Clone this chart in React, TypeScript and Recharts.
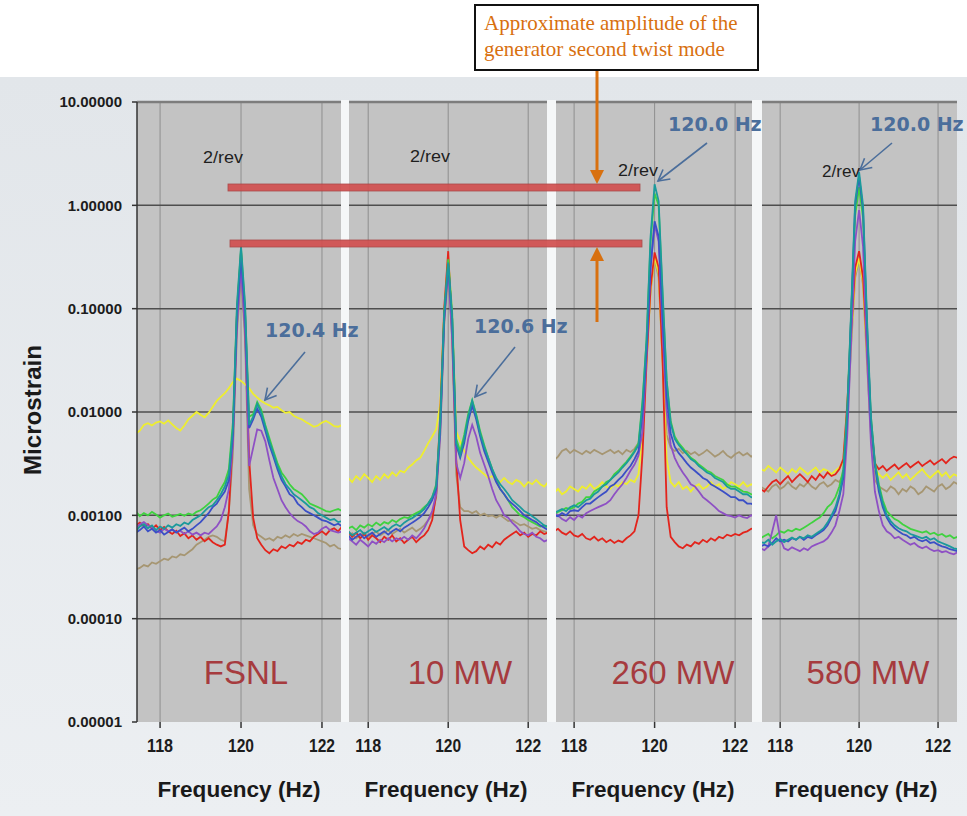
import { LineChart, Line, XAxis, YAxis, CartesianGrid, ReferenceLine } from "recharts";

// Frequency axis (Hz), shared by all four panels
const FREQ = [
  117.4, 117.5, 117.6, 117.7, 117.8, 117.9,
  118.0, 118.1, 118.2, 118.3, 118.4, 118.5, 118.6, 118.7, 118.8, 118.9,
  119.0, 119.1, 119.2, 119.3, 119.4, 119.5, 119.6, 119.7, 119.8, 119.9,
  120.0, 120.1, 120.2, 120.3, 120.4, 120.5, 120.6, 120.7, 120.8, 120.9,
  121.0, 121.1, 121.2, 121.3, 121.4, 121.5, 121.6, 121.7, 121.8, 121.9,
  122.0, 122.1, 122.2, 122.3, 122.4, 122.5,
];

// ---- FSNL ----
const FSNL_YELLOW = [
  0.0062, 0.0066, 0.0075, 0.0078, 0.0074, 0.0079,
  0.0081, 0.0077, 0.0083, 0.0076, 0.007, 0.0066, 0.0074, 0.0085, 0.0092, 0.01,
  0.0094, 0.0089, 0.0098, 0.0112, 0.0128, 0.014, 0.0152, 0.017, 0.0195, 0.021,
  0.02, 0.0185, 0.017, 0.015, 0.0138, 0.0128, 0.0121, 0.0116, 0.011, 0.0112,
  0.0104, 0.0098, 0.01, 0.0092, 0.0088, 0.0085, 0.008, 0.0076, 0.0072, 0.0074,
  0.0079, 0.0082, 0.0078, 0.0073, 0.0072, 0.0075,
];
const FSNL_RED = [
  0.0008, 0.00085, 0.00078, 0.00082, 0.00074, 0.0008,
  0.00072, 0.00077, 0.0007, 0.00066, 0.00071, 0.00063, 0.00067, 0.0006, 0.00064, 0.00058,
  0.00062, 0.00056, 0.0006, 0.00055, 0.00052, 0.0005, 0.00052, 0.0011, 0.006, 0.09,
  0.36, 0.07, 0.0035, 0.00095, 0.0006, 0.00052, 0.00046, 0.00043, 0.00047, 0.00045,
  0.0005, 0.00048, 0.00052, 0.0005, 0.00055, 0.00053, 0.00058, 0.00056, 0.00062, 0.00066,
  0.0007, 0.00065, 0.00072, 0.00075, 0.0007, 0.00078,
];
const FSNL_GREEN = [
  0.0011, 0.00098, 0.00105, 0.001, 0.00108, 0.00102,
  0.00095, 0.001, 0.00104, 0.00097, 0.001, 0.00103, 0.00099, 0.00104, 0.00101, 0.00108,
  0.00112, 0.0012, 0.0013, 0.00142, 0.0015, 0.0018, 0.0021, 0.0028, 0.008, 0.1,
  0.38, 0.1, 0.009, 0.0095, 0.0125, 0.0105, 0.0075, 0.0056, 0.0042, 0.0032,
  0.0026, 0.0023, 0.002, 0.0018, 0.0017, 0.0016, 0.00145, 0.0013, 0.00125, 0.0012,
  0.00115, 0.0011, 0.00108, 0.00112, 0.00115, 0.0011,
];
const FSNL_TEAL = [
  0.0007, 0.00078, 0.00082, 0.00075, 0.0008, 0.00072,
  0.00078, 0.00074, 0.0008, 0.00076, 0.00082, 0.00079, 0.00085, 0.00082, 0.0009, 0.00095,
  0.001, 0.0011, 0.0012, 0.00125, 0.0014, 0.0016, 0.0019, 0.0025, 0.007, 0.11,
  0.4, 0.11, 0.0075, 0.009, 0.012, 0.0098, 0.0072, 0.0052, 0.004, 0.003,
  0.0024, 0.002, 0.0018, 0.0016, 0.0015, 0.0014, 0.0013, 0.0012, 0.00115, 0.00105,
  0.001, 0.00095, 0.0009, 0.00092, 0.00086, 0.00088,
];
const FSNL_BLUE = [
  0.00068, 0.00072, 0.00078, 0.0007, 0.00074, 0.00068,
  0.00072, 0.00065, 0.00069, 0.00073, 0.00068, 0.00072, 0.00076, 0.0007, 0.00074, 0.0008,
  0.00086, 0.00095, 0.00105, 0.0012, 0.0013, 0.0015, 0.0017, 0.0022, 0.0062, 0.09,
  0.32, 0.09, 0.007, 0.0085, 0.0108, 0.009, 0.0066, 0.0048, 0.0037, 0.0028,
  0.0022, 0.0019, 0.0016, 0.0015, 0.0013, 0.0012, 0.0011, 0.00105, 0.001, 0.00095,
  0.0009, 0.00088, 0.00084, 0.0008, 0.00083, 0.00078,
];
const FSNL_PURPLE = [
  0.00075, 0.00082, 0.00086, 0.0008, 0.00077, 0.00071,
  0.00068, 0.00074, 0.0007, 0.00073, 0.00069, 0.00071, 0.00066, 0.0007, 0.00065, 0.00068,
  0.00064, 0.00068, 0.00066, 0.00072, 0.00078, 0.0009, 0.0012, 0.0018, 0.005, 0.07,
  0.24, 0.06, 0.003, 0.0045, 0.0068, 0.0066, 0.0052, 0.0034, 0.0023, 0.0018,
  0.0014, 0.0012, 0.00105, 0.00095, 0.00088, 0.00084, 0.00078, 0.0007, 0.00066, 0.00068,
  0.00074, 0.00078, 0.00072, 0.0007, 0.00068, 0.0007,
];
const FSNL_TAN = [
  0.0003, 0.00031, 0.00033, 0.00032, 0.00035, 0.00034,
  0.00036, 0.00038, 0.00037, 0.0004, 0.00039, 0.00042, 0.00041, 0.00044, 0.00047, 0.00052,
  0.00055, 0.00058, 0.00062, 0.00064, 0.00062, 0.00058, 0.00056, 0.0011, 0.004, 0.06,
  0.2, 0.05, 0.0018, 0.0008, 0.00066, 0.00062, 0.00058, 0.0006, 0.00057, 0.00062,
  0.0006, 0.00064, 0.00061, 0.00066, 0.00063, 0.00066, 0.00064, 0.00062, 0.0006, 0.00058,
  0.00056, 0.00054, 0.0005, 0.00052, 0.00048, 0.00047,
];

// ---- 10 MW ----
const MW10_YELLOW = [
  0.0022, 0.0023, 0.0021, 0.0024, 0.0022, 0.0025,
  0.0023, 0.0021, 0.0024, 0.0022, 0.0025, 0.0023, 0.0026, 0.0024, 0.0027, 0.0026,
  0.0029, 0.0031, 0.0034, 0.0036, 0.0042, 0.005, 0.0058, 0.0068, 0.012, 0.09,
  0.32, 0.08, 0.0065, 0.0052, 0.0042, 0.0036, 0.0032, 0.0029, 0.0027, 0.0025,
  0.0023, 0.0024, 0.0022, 0.0021, 0.0023, 0.0021, 0.002, 0.0022, 0.0021, 0.0019,
  0.0021, 0.002, 0.0022, 0.002, 0.0019, 0.0021,
];
const MW10_RED = [
  0.00065, 0.0007, 0.00062, 0.00068, 0.0006, 0.00066,
  0.00058, 0.00064, 0.0006, 0.00055, 0.00062, 0.00058, 0.00064, 0.00056, 0.0006, 0.00054,
  0.00058, 0.00062, 0.00055, 0.0006, 0.00064, 0.00072, 0.0009, 0.0016, 0.0095, 0.1,
  0.36, 0.06, 0.0035, 0.0009, 0.0005, 0.00046, 0.00043, 0.00045, 0.0005, 0.00047,
  0.00052, 0.00049, 0.00055, 0.00052, 0.00058, 0.00062, 0.00066, 0.0007, 0.00064, 0.00068,
  0.00062, 0.00066, 0.00064, 0.0007, 0.00066, 0.00068,
];
const MW10_GREEN = [
  0.0007, 0.00075, 0.00078, 0.00072, 0.0008, 0.00076,
  0.00082, 0.00078, 0.00085, 0.0008, 0.00086, 0.00083, 0.0009, 0.00086, 0.00092, 0.00096,
  0.00094, 0.001, 0.00105, 0.0011, 0.0012, 0.0013, 0.0015, 0.002, 0.008, 0.09,
  0.3, 0.09, 0.0055, 0.0042, 0.006, 0.0095, 0.013, 0.0095, 0.0065, 0.0048,
  0.0036, 0.0028, 0.0022, 0.0018, 0.0016, 0.0014, 0.0012, 0.0011, 0.001, 0.00096,
  0.0009, 0.00086, 0.00082, 0.00078, 0.0008, 0.00076,
];
const MW10_TEAL = [
  0.00066, 0.0007, 0.00064, 0.00068, 0.00072, 0.00066,
  0.0007, 0.00074, 0.00069, 0.00073, 0.00077, 0.00072, 0.00078, 0.00082, 0.00078, 0.00085,
  0.0009, 0.00094, 0.001, 0.00106, 0.00115, 0.0013, 0.0015, 0.0019, 0.0075, 0.09,
  0.28, 0.08, 0.005, 0.0038, 0.0055, 0.009, 0.0128, 0.0092, 0.0062, 0.0046,
  0.0036, 0.0028, 0.0023, 0.002, 0.0018, 0.0016, 0.0014, 0.0013, 0.0012, 0.0011,
  0.00105, 0.00098, 0.00092, 0.00086, 0.0008, 0.00078,
];
const MW10_BLUE = [
  0.0006, 0.00064, 0.00058, 0.00062, 0.00066, 0.0006,
  0.00064, 0.00068, 0.00062, 0.00066, 0.0007, 0.00065, 0.0007, 0.00074, 0.0007, 0.00076,
  0.0008, 0.00085, 0.0009, 0.00096, 0.00105, 0.0012, 0.0014, 0.0018, 0.007, 0.08,
  0.27, 0.08, 0.0048, 0.0036, 0.005, 0.0082, 0.0115, 0.0085, 0.0058, 0.0042,
  0.0033, 0.0026, 0.0021, 0.0018, 0.0016, 0.0014, 0.0013, 0.0012, 0.0011, 0.001,
  0.00095, 0.0009, 0.00086, 0.0008, 0.00076, 0.00072,
];
const MW10_PURPLE = [
  0.00055, 0.0006, 0.00056, 0.00052, 0.00058, 0.00054,
  0.0005, 0.00056, 0.00053, 0.00058, 0.00055, 0.0006, 0.00056, 0.0006, 0.00058, 0.00062,
  0.00058, 0.00064, 0.0006, 0.00066, 0.00075, 0.0009, 0.0011, 0.0016, 0.006, 0.075,
  0.25, 0.05, 0.0032, 0.0023, 0.0032, 0.0055, 0.0075, 0.0058, 0.004, 0.0031,
  0.0024, 0.0018, 0.0014, 0.0012, 0.001, 0.00095, 0.00085, 0.00078, 0.0007, 0.00066,
  0.00064, 0.00068, 0.00062, 0.0006, 0.00056, 0.00058,
];
const MW10_TAN = [
  0.0006, 0.00063, 0.00067, 0.0006, 0.00064, 0.00068,
  0.00062, 0.00066, 0.0007, 0.00064, 0.00068, 0.00072, 0.00066, 0.0007, 0.00074, 0.00068,
  0.00072, 0.00076, 0.0007, 0.00074, 0.0008, 0.0009, 0.001, 0.0015, 0.006, 0.07,
  0.22, 0.05, 0.0025, 0.0012, 0.0011, 0.0011, 0.00105, 0.0011, 0.001, 0.00104,
  0.00098, 0.001, 0.00095, 0.001, 0.00094, 0.00088, 0.0009, 0.00085, 0.0008, 0.00082,
  0.00078, 0.00074, 0.00076, 0.00072, 0.0007, 0.00068,
];

// ---- 260 MW ----
const MW260_YELLOW = [
  0.0017, 0.00165, 0.0018, 0.0016, 0.0017, 0.0019,
  0.0018, 0.0017, 0.0019, 0.0018, 0.002, 0.0018, 0.0019, 0.0021, 0.0019, 0.0018,
  0.002, 0.0019, 0.0021, 0.002, 0.0022, 0.0021, 0.0025, 0.006, 0.03, 0.15,
  0.32, 0.22, 0.03, 0.0035, 0.0021, 0.0019, 0.0021, 0.0018, 0.0019, 0.0017,
  0.0019, 0.002, 0.0018, 0.0019, 0.0021, 0.0019, 0.002, 0.0018, 0.0019, 0.0021,
  0.002, 0.0019, 0.0021, 0.0019, 0.002, 0.0019,
];
const MW260_RED = [
  0.00072, 0.0007, 0.00074, 0.00068, 0.00065, 0.0007,
  0.00064, 0.00062, 0.00066, 0.0006, 0.00058, 0.00062, 0.00057, 0.0006, 0.00055, 0.00058,
  0.00054, 0.00057, 0.00055, 0.0006, 0.00064, 0.0007, 0.001, 0.004, 0.03, 0.16,
  0.35, 0.25, 0.03, 0.0012, 0.00062, 0.00055, 0.0005, 0.00048, 0.00052, 0.0005,
  0.00055, 0.00053, 0.00058, 0.00055, 0.0006, 0.00057, 0.00062, 0.0006, 0.00065, 0.00063,
  0.00066, 0.00064, 0.00068, 0.0007, 0.00074, 0.00076,
];
const MW260_GREEN = [
  0.00098, 0.001, 0.00108, 0.00112, 0.00118, 0.00115,
  0.0012, 0.0013, 0.00135, 0.0015, 0.0015, 0.0017, 0.0018, 0.0019, 0.0021, 0.0022,
  0.0025, 0.0027, 0.003, 0.0033, 0.0037, 0.0042, 0.005, 0.013, 0.05, 0.45,
  1.3, 1.0, 0.13, 0.02, 0.0082, 0.0058, 0.005, 0.0045, 0.004, 0.0036,
  0.0034, 0.0031, 0.0029, 0.0027, 0.0026, 0.0024, 0.0023, 0.0022, 0.002, 0.0019,
  0.0019, 0.0018, 0.0017, 0.00168, 0.0016, 0.00155,
];
const MW260_TEAL = [
  0.001, 0.00105, 0.0011, 0.00115, 0.0011, 0.0012,
  0.00125, 0.0012, 0.0013, 0.0014, 0.00145, 0.0016, 0.0017, 0.0019, 0.002, 0.0022,
  0.0024, 0.0026, 0.0029, 0.0032, 0.0036, 0.0041, 0.0048, 0.012, 0.05, 0.5,
  1.6, 1.1, 0.14, 0.02, 0.0078, 0.0055, 0.0048, 0.0043, 0.0039, 0.0035,
  0.0033, 0.003, 0.0028, 0.0026, 0.0025, 0.0023, 0.0022, 0.0021, 0.0019, 0.0018,
  0.0018, 0.0017, 0.0016, 0.0016, 0.0015, 0.00148,
];
const MW260_BLUE = [
  0.00095, 0.001, 0.00098, 0.00105, 0.001, 0.0011,
  0.00112, 0.0011, 0.0012, 0.0013, 0.0013, 0.0014, 0.0015, 0.0016, 0.0017, 0.0019,
  0.002, 0.0022, 0.0024, 0.0027, 0.003, 0.0035, 0.0042, 0.01, 0.04, 0.25,
  0.7, 0.5, 0.08, 0.014, 0.0062, 0.0046, 0.004, 0.0036, 0.0032, 0.0029,
  0.0027, 0.0025, 0.0023, 0.0022, 0.002, 0.0019, 0.0018, 0.0017, 0.0016, 0.0015,
  0.0015, 0.0014, 0.0014, 0.0013, 0.0013, 0.00125,
];
const MW260_PURPLE = [
  0.0011, 0.00105, 0.001, 0.00092, 0.00088, 0.00096,
  0.0009, 0.001, 0.00095, 0.00105, 0.0011, 0.00115, 0.0012, 0.00125, 0.0013, 0.0014,
  0.0016, 0.0018, 0.002, 0.0023, 0.0027, 0.0031, 0.0038, 0.0065, 0.035, 0.25,
  0.65, 0.45, 0.06, 0.01, 0.0048, 0.0036, 0.003, 0.0026, 0.0023, 0.002,
  0.0019, 0.0017, 0.0015, 0.0014, 0.0013, 0.0012, 0.0011, 0.00105, 0.001, 0.00098,
  0.00095, 0.001, 0.00096, 0.00094, 0.001, 0.00098,
];
const MW260_TAN = [
  0.0036, 0.0034, 0.0037, 0.0042, 0.0044, 0.004,
  0.0043, 0.0041, 0.0039, 0.0042, 0.004, 0.0043, 0.0041, 0.0039, 0.0041, 0.0043,
  0.004, 0.0042, 0.0039, 0.0043, 0.0041, 0.0044, 0.005, 0.009, 0.035, 0.15,
  0.3, 0.2, 0.03, 0.006, 0.0045, 0.0042, 0.0044, 0.004, 0.0042, 0.0039,
  0.0041, 0.0038, 0.004, 0.0043, 0.004, 0.0037, 0.0039, 0.0042, 0.0038, 0.0036,
  0.0039, 0.0041, 0.0038, 0.004, 0.0037, 0.0039,
];

// ---- 580 MW ----
const MW580_YELLOW = [
  0.0026, 0.0028, 0.0027, 0.003, 0.0028, 0.0026,
  0.0029, 0.0027, 0.0025, 0.0028, 0.0026, 0.0029, 0.0027, 0.0025, 0.0027, 0.0029,
  0.0026, 0.0028, 0.0027, 0.0025, 0.0027, 0.0029, 0.0033, 0.01, 0.05, 0.22,
  0.31, 0.18, 0.035, 0.007, 0.0028, 0.0025, 0.0023, 0.0025, 0.0022, 0.0024,
  0.0026, 0.0023, 0.0025, 0.0022, 0.0024, 0.0026, 0.0028, 0.0025, 0.0023, 0.0025,
  0.0027, 0.0024, 0.0026, 0.0023, 0.0025, 0.0024,
];
const MW580_RED = [
  0.0017, 0.0018, 0.0017, 0.0019, 0.0021, 0.0022,
  0.002, 0.0022, 0.0024, 0.0021, 0.0023, 0.0025, 0.0023, 0.0021, 0.0024, 0.0022,
  0.0025, 0.0023, 0.0026, 0.0024, 0.0025, 0.0028, 0.0035, 0.012, 0.06, 0.25,
  0.36, 0.2, 0.04, 0.008, 0.0032, 0.0028, 0.003, 0.0027, 0.0029, 0.0031,
  0.0028, 0.003, 0.0032, 0.0029, 0.0031, 0.0033, 0.003, 0.0032, 0.0034, 0.0031,
  0.0033, 0.0035, 0.0032, 0.0035, 0.0037, 0.0036,
];
const MW580_GREEN = [
  0.00058, 0.0006, 0.00063, 0.00066, 0.0006, 0.00064,
  0.0007, 0.00068, 0.00072, 0.0007, 0.00074, 0.00072, 0.00076, 0.0008, 0.00085, 0.0009,
  0.00095, 0.00105, 0.0012, 0.0013, 0.0015, 0.0019, 0.0028, 0.011, 0.09, 0.8,
  1.5, 0.75, 0.06, 0.009, 0.0033, 0.002, 0.0014, 0.0011, 0.001, 0.00092,
  0.00088, 0.00082, 0.00078, 0.00074, 0.00072, 0.0007, 0.00068, 0.0007, 0.00066, 0.00068,
  0.00064, 0.00066, 0.00062, 0.00064, 0.0006, 0.00062,
];
const MW580_TEAL = [
  0.00052, 0.00055, 0.00054, 0.00058, 0.00052, 0.00056,
  0.00059, 0.00055, 0.00058, 0.00061, 0.00058, 0.00062, 0.0006, 0.00064, 0.00062, 0.00066,
  0.0007, 0.00075, 0.00085, 0.001, 0.0012, 0.0016, 0.0025, 0.01, 0.1, 1.1,
  2.1, 1.0, 0.08, 0.009, 0.0032, 0.0019, 0.0013, 0.001, 0.00088, 0.0008,
  0.00075, 0.00072, 0.0007, 0.00066, 0.00064, 0.00062, 0.0006, 0.00062, 0.00058, 0.0006,
  0.00056, 0.00054, 0.00052, 0.0005, 0.00048, 0.00047,
];
const MW580_BLUE = [
  0.00048, 0.0005, 0.00052, 0.0005, 0.00054, 0.0006,
  0.00056, 0.00058, 0.00056, 0.0006, 0.00058, 0.00062, 0.00058, 0.00062, 0.0006, 0.00064,
  0.00068, 0.00072, 0.0008, 0.00095, 0.0011, 0.0015, 0.0023, 0.009, 0.09, 1.0,
  1.9, 0.9, 0.07, 0.008, 0.003, 0.0017, 0.0012, 0.00095, 0.00082, 0.00075,
  0.0007, 0.00066, 0.00064, 0.0006, 0.00062, 0.00058, 0.00056, 0.00058, 0.00054, 0.00055,
  0.00052, 0.0005, 0.00049, 0.00047, 0.00046, 0.00045,
];
const MW580_PURPLE = [
  0.00045, 0.00048, 0.00046, 0.0005, 0.0007, 0.001,
  0.0006, 0.00048, 0.00046, 0.00049, 0.00047, 0.00045, 0.00048, 0.00046, 0.0005, 0.00052,
  0.00054, 0.00056, 0.0006, 0.00068, 0.0008, 0.0011, 0.0016, 0.006, 0.05, 0.45,
  0.9, 0.4, 0.035, 0.005, 0.0017, 0.0011, 0.0008, 0.0007, 0.00066, 0.0006,
  0.00062, 0.00058, 0.00055, 0.00052, 0.00054, 0.0005, 0.00048, 0.0005, 0.00047, 0.00045,
  0.00046, 0.00044, 0.00045, 0.00043, 0.00042, 0.00044,
];
const MW580_TAN = [
  0.0018, 0.0019, 0.0018, 0.0017, 0.0019, 0.002,
  0.0018, 0.0019, 0.0021, 0.0019, 0.0018, 0.002, 0.0019, 0.0021, 0.0019, 0.0018,
  0.002, 0.0021, 0.0019, 0.002, 0.0022, 0.0021, 0.0025, 0.009, 0.045, 0.2,
  0.3, 0.17, 0.03, 0.006, 0.0022, 0.0019, 0.0018, 0.0017, 0.0019, 0.0018,
  0.0016, 0.0018, 0.0017, 0.0019, 0.0018, 0.0016, 0.0017, 0.0019, 0.0018, 0.0017,
  0.0019, 0.002, 0.0018, 0.0019, 0.0021, 0.002,
];

const Y_TICKS = [0.00001, 0.0001, 0.001, 0.01, 0.1, 1, 10];
const Y_GRID = [0.0001, 0.001, 0.01, 0.1, 1];
const X_TICKS = [118, 120, 122];

// draw order: last one ends up on top
const SERIES = [
  { key: "tan", color: "#a69672" },
  { key: "yellow", color: "#eeee2e" },
  { key: "red", color: "#e3241c" },
  { key: "green", color: "#3fd23f" },
  { key: "purple", color: "#8e50c4" },
  { key: "blue", color: "#3b4fc6" },
  { key: "teal", color: "#1b9a9c" },
];

type Panel = {
  name: string;
  values: Record<string, number[]>;
  domain: [number, number];
  left: number;
  right: number;
};

const PANELS: Panel[] = [
  {
    name: "FSNL",
    values: { tan: FSNL_TAN, yellow: FSNL_YELLOW, red: FSNL_RED, green: FSNL_GREEN, purple: FSNL_PURPLE, blue: FSNL_BLUE, teal: FSNL_TEAL },
    domain: [117.43, 122.47],
    left: 137,
    right: 341,
  },
  {
    name: "10 MW",
    values: { tan: MW10_TAN, yellow: MW10_YELLOW, red: MW10_RED, green: MW10_GREEN, purple: MW10_PURPLE, blue: MW10_BLUE, teal: MW10_TEAL },
    domain: [117.52, 122.47],
    left: 349,
    right: 547,
  },
  {
    name: "260 MW",
    values: { tan: MW260_TAN, yellow: MW260_YELLOW, red: MW260_RED, green: MW260_GREEN, purple: MW260_PURPLE, blue: MW260_BLUE, teal: MW260_TEAL },
    domain: [117.55, 122.42],
    left: 556,
    right: 752,
  },
  {
    name: "580 MW",
    values: { tan: MW580_TAN, yellow: MW580_YELLOW, red: MW580_RED, green: MW580_GREEN, purple: MW580_PURPLE, blue: MW580_BLUE, teal: MW580_TEAL },
    domain: [117.54, 122.48],
    left: 762,
    right: 957,
  },
];

const W = 967;
const H = 816;
const PLOT_TOP = 102;
const PLOT_BOTTOM = 722;
const X_AXIS_H = 30;
const SANS = "'Liberation Sans', Arial, sans-serif";

// condensed bold tick labels like the original
const XTick = (props: any) => {
  const { x, y, payload } = props;
  return (
    <text
      x={x}
      y={y + 22}
      textAnchor="middle"
      fontFamily={SANS}
      fontSize={19}
      fontWeight={700}
      fill="#1c1c1c"
      textLength={26}
      lengthAdjust="spacingAndGlyphs"
    >
      {payload.value}
    </text>
  );
};

const PanelChart = ({ panel, first }: { panel: Panel; first: boolean }) => {
  const rows = FREQ.map((f, i) => {
    const row: Record<string, number> = { f };
    SERIES.forEach((s) => {
      row[s.key] = panel.values[s.key][i];
    });
    return row;
  });

  return (
    <div style={{ position: "absolute", left: 0, top: 0 }}>
      <LineChart
        width={W}
        height={H}
        data={rows}
        margin={{
          top: PLOT_TOP,
          bottom: H - PLOT_BOTTOM - X_AXIS_H,
          left: first ? 0 : panel.left,
          right: W - panel.right,
        }}
      >
        <CartesianGrid horizontal={false} verticalValues={X_TICKS} stroke="#8f8f8f" fill="#c3c3c3" fillOpacity={1} />
        <CartesianGrid vertical={false} horizontalValues={Y_GRID} stroke="#4e4e4e" strokeWidth={1.5} />
        <XAxis
          dataKey="f"
          type="number"
          domain={panel.domain}
          allowDataOverflow
          ticks={X_TICKS}
          interval={0}
          height={X_AXIS_H}
          axisLine={false}
          tickLine={{ stroke: "#333", strokeWidth: 1.5 }}
          tickSize={6}
          tick={(p: any) => <XTick {...p} />}
        />
        <YAxis
          hide={!first}
          width={first ? panel.left : 0}
          scale="log"
          type="number"
          domain={[0.00001, 10]}
          allowDataOverflow
          ticks={Y_TICKS}
          interval={0}
          tickFormatter={(v: number) => v.toFixed(5)}
          axisLine={{ stroke: "#333", strokeWidth: 1.5 }}
          tickLine={{ stroke: "#333", strokeWidth: 1.5 }}
          tickSize={5}
          tickMargin={10}
          tick={{ fontFamily: SANS, fontSize: 15, fontWeight: 700, fill: "#1c1c1c" }}
        />
        <ReferenceLine y={10} stroke="#7d7d7d" strokeWidth={2.5} />
        {SERIES.map((s) => (
          <Line
            key={s.key}
            type="linear"
            dataKey={s.key}
            stroke={s.color}
            strokeWidth={1.8}
            dot={false}
            isAnimationActive={false}
          />
        ))}
      </LineChart>
    </div>
  );
};

const ORANGE = "#d8700f";
const STEEL = "#4b6e9b";

const App = () => {
  return (
    <div style={{ position: "absolute", left: 0, top: 0, width: W, height: H, background: "#fff", overflow: "hidden" }}>
      {/* slide background */}
      <div
        style={{
          position: "absolute",
          left: 0,
          top: 77,
          width: W,
          height: H - 77,
          background: "linear-gradient(180deg, #e2e6ea 0%, #eceff2 100%)",
        }}
      />
      <svg width={W} height={H} style={{ position: "absolute", left: 0, top: 0 }}>
        <rect x={341} y={100} width={8} height={622} fill="#f5f7f8" />
        <rect x={547} y={100} width={9} height={622} fill="#f5f7f8" />
        <rect x={752} y={100} width={10} height={622} fill="#f5f7f8" />
      </svg>

      {PANELS.map((p, i) => (
        <PanelChart key={p.name} panel={p} first={i === 0} />
      ))}

      {/* annotations */}
      <svg width={W} height={H} style={{ position: "absolute", left: 0, top: 0, pointerEvents: "none" }}>
        <defs>
          <marker id="steelHead" markerUnits="userSpaceOnUse" markerWidth={14} markerHeight={14} refX={12} refY={7} orient="auto">
            <path d="M1,1 L12,7 L1,13" fill="none" stroke={STEEL} strokeWidth={1.6} />
          </marker>
        </defs>

        {/* amplitude bars */}
        <rect x={228} y={184} width={412} height={7} fill="#d24f4f" stroke="#a84242" strokeWidth={0.8} opacity={0.92} />
        <rect x={230} y={240} width={412} height={7} fill="#d24f4f" stroke="#a84242" strokeWidth={0.8} opacity={0.92} />

        {/* orange arrows */}
        <line x1={597} y1={71} x2={597} y2={172} stroke={ORANGE} strokeWidth={3} />
        <polygon points="590,170 604,170 597,184" fill={ORANGE} />
        <line x1={597} y1={259} x2={597} y2={322} stroke={ORANGE} strokeWidth={3} />
        <polygon points="590,261 604,261 597,247" fill={ORANGE} />

        {/* callout box */}
        <rect x={475} y={5} width={283} height={65} fill="#fff" stroke="#111" strokeWidth={2} />
        <text x={484} y={30} fontFamily="'Liberation Serif', 'Times New Roman', serif" fontSize={21} fill={ORANGE}>
          Approximate amplitude of the
        </text>
        <text x={484} y={56} fontFamily="'Liberation Serif', 'Times New Roman', serif" fontSize={21} fill={ORANGE}>
          generator second twist mode
        </text>

        {/* mode frequency labels */}
        <g fontFamily="'DejaVu Sans', sans-serif" fontWeight={700} fontSize={19} fill={STEEL}>
          <text x={265} y={337}>120.4 Hz</text>
          <text x={474} y={333}>120.6 Hz</text>
          <text x={668} y={131}>120.0 Hz</text>
          <text x={870} y={131}>120.0 Hz</text>
        </g>
        <g stroke={STEEL} strokeWidth={1.6}>
          <line x1={305} y1={352} x2={265} y2={400} markerEnd="url(#steelHead)" />
          <line x1={515} y1={347} x2={475} y2={397} markerEnd="url(#steelHead)" />
          <line x1={707} y1={143} x2={658} y2={181} markerEnd="url(#steelHead)" />
          <line x1={892} y1={143} x2={860} y2={170} markerEnd="url(#steelHead)" />
        </g>

        {/* 2/rev labels */}
        <g fontFamily={SANS} fontSize={16} fill="#1e1e1e">
          <text x={203} y={163} textLength={40} lengthAdjust="spacingAndGlyphs">2/rev</text>
          <text x={410} y={162} textLength={40} lengthAdjust="spacingAndGlyphs">2/rev</text>
          <text x={618} y={176} textLength={40} lengthAdjust="spacingAndGlyphs">2/rev</text>
          <text x={822} y={177} textLength={38} lengthAdjust="spacingAndGlyphs">2/rev</text>
        </g>

        {/* panel names */}
        <g fontFamily={SANS} fontSize={33} fill="#a63b3e" textAnchor="middle">
          <text x={246} y={684}>{PANELS[0].name}</text>
          <text x={460} y={684}>{PANELS[1].name}</text>
          <text x={673} y={684}>{PANELS[2].name}</text>
          <text x={868} y={684}>{PANELS[3].name}</text>
        </g>

        {/* axis titles */}
        <g fontFamily={SANS} fontSize={22} fontWeight={700} fill="#1a1a1a" textAnchor="middle">
          <text x={239} y={797} textLength={163} lengthAdjust="spacingAndGlyphs">Frequency (Hz)</text>
          <text x={446} y={797} textLength={163} lengthAdjust="spacingAndGlyphs">Frequency (Hz)</text>
          <text x={653} y={797} textLength={163} lengthAdjust="spacingAndGlyphs">Frequency (Hz)</text>
          <text x={856} y={797} textLength={163} lengthAdjust="spacingAndGlyphs">Frequency (Hz)</text>
        </g>
        <text
          transform="translate(41,410) rotate(-90)"
          textAnchor="middle"
          fontFamily={SANS}
          fontSize={23}
          fontWeight={700}
          fill="#1a1a1a"
          textLength={130}
          lengthAdjust="spacingAndGlyphs"
        >
          Microstrain
        </text>
      </svg>
    </div>
  );
};

export default App;
